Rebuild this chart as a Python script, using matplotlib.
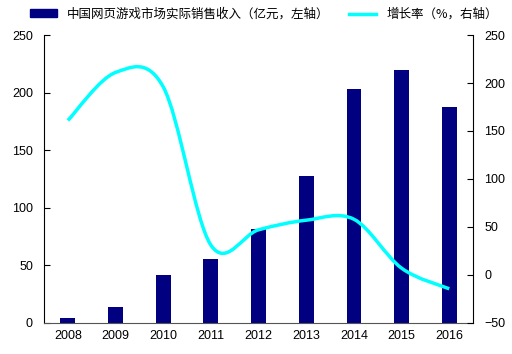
import numpy as np
import matplotlib
matplotlib.use("Agg")
from matplotlib import pyplot as plt
from matplotlib.path import Path
from matplotlib.patches import PathPatch, Patch
from matplotlib.lines import Line2D

plt.rcParams['font.family'] = ['Liberation Sans', 'Noto Sans CJK SC', 'DejaVu Sans']

years = ['2008', '2009', '2010', '2011', '2012', '2013', '2014', '2015', '2016']
revenue = [4.6, 14.2, 41.7, 55.6, 81.3, 127.6, 202.9, 219.6, 187.2]
growth = [161, 211, 196, 31, 47, 57, 58, 7, -14.5]

bar_label = '中国网页游戏市场实际销售收入（亿元，左轴）'
line_label = '增长率（%，右轴）'

navy = '#000080'
cyan = '#00FFFF'

fig = plt.figure(figsize=(5.12, 3.54), dpi=100)
ax = fig.add_axes([0.086, 0.088, 0.838, 0.813])
x = np.arange(len(years))
ax.bar(x, revenue, width=0.31, color=navy, zorder=2)
ax.set_xlim(-0.5, len(years) - 0.5)
ax.set_ylim(0, 250)
ax.set_yticks(range(0, 251, 50))
ax.set_xticks(x)
ax.set_xticklabels(years)

ax2 = ax.twinx()
ax2.set_ylim(-50, 250)
ax2.set_yticks(range(-50, 251, 50))

# smoothed line like Excel (Catmull-Rom bezier)
pts = np.column_stack([x, growth]).astype(float)
verts = [tuple(pts[0])]
codes = [Path.MOVETO]
n = len(pts)
for i in range(n - 1):
    p0 = pts[max(i - 1, 0)]
    p1 = pts[i]
    p2 = pts[i + 1]
    p3 = pts[min(i + 2, n - 1)]
    c1 = p1 + (p2 - p0) / 6
    c2 = p2 - (p3 - p1) / 6
    verts += [tuple(c1), tuple(c2), tuple(p2)]
    codes += [Path.CURVE4] * 3
ax2.add_patch(PathPatch(Path(verts, codes), facecolor='none', edgecolor=cyan,
                        lw=2.5, capstyle='butt', zorder=3))

for a in (ax, ax2):
    a.spines['top'].set_visible(False)
    a.tick_params(axis='y', direction='in', length=4, labelsize=9, colors='black')
    a.tick_params(axis='x', length=0, labelsize=9, pad=5)
ax.spines['right'].set_visible(False)
ax.spines['bottom'].set_color('#555555')
ax2.spines['left'].set_visible(False)
ax2.spines['bottom'].set_visible(False)
ax.tick_params(axis='y', pad=8)
ax2.tick_params(axis='y', pad=8)

handles = [Patch(color=navy), Line2D([], [], color=cyan, lw=2.5)]
fig.legend(handles, [bar_label, line_label], loc='upper center',
           bbox_to_anchor=(0.515, 1.01), ncol=2, frameon=False,
           handlelength=2.2, handleheight=0.6, columnspacing=1.5,
           prop={'family': ['Noto Sans CJK SC', 'DejaVu Sans'], 'size': 9})

fig.savefig('out.png', dpi=100)
